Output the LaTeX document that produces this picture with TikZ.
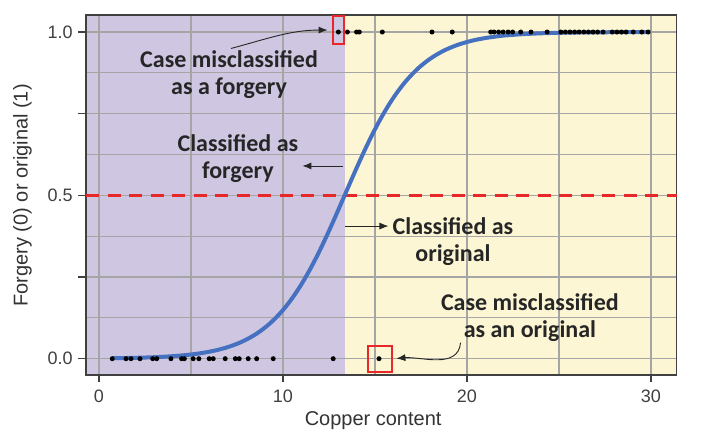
\documentclass[tikz,border=0pt]{standalone}
\usepackage{fontspec}
\setmainfont{Liberation Sans}
\newfontfamily\calloutfont{Carlito}
\usepackage{xcolor}
\usetikzlibrary{arrows.meta, calc, positioning}

\definecolor{forgeryfill}{RGB}{207,198,226}
\definecolor{originalfill}{RGB}{252,246,212}
\definecolor{gridgray}{RGB}{165,165,165}
\definecolor{curveblue}{RGB}{70,112,192}
\definecolor{cutred}{RGB}{232,40,40}

\begin{document}
\begin{tikzpicture}[x=18.4pt, y=326.7pt,
    callout/.style={font=\calloutfont\bfseries\fontsize{24}{27}\selectfont, align=center, inner sep=1pt, text=black!85},
    ticklabel/.style={font=\fontsize{18}{18}\selectfont, text=black!75},
    axistitle/.style={font=\fontsize{20}{20}\selectfont, text=black!80},
    pointer/.style={-{Latex[length=9pt,width=7pt]}, line width=0.9pt, black!85},
    dot/.style={circle, fill=black, inner sep=0pt, minimum size=5pt},
    markbox/.style={draw=cutred, line width=2pt, inner sep=0pt}]
\useasboundingbox (-5.38,-0.2366) rectangle (32.72,1.098);
% the two halves of the panel
\fill[forgeryfill] (-0.7,-0.05) rectangle (13.35,1.052);
\fill[originalfill] (13.35,-0.05) rectangle (31.4,1.052);
% grid
\foreach \gx in {0,5,...,30}
    \draw[gridgray, line width=1.2pt] (\gx,-0.05) -- (\gx,1.052);
\foreach \gy in {0,1,...,8}
    \draw[gridgray, line width=1.2pt] (-0.7,\gy/8) -- (31.4,\gy/8);
\draw[black!75, line width=1.3pt] (-0.7,-0.05) rectangle (31.4,1.052);
% ticks
\foreach \gx in {0,10,20,30} {
    \draw[black!75, line width=1.2pt] (\gx,-0.05) -- ++(0,-7pt);
    \node[ticklabel] (xl\gx) at (\gx,-0.114) {\gx};
}
\foreach \gy in {0,0.25,0.5,0.75,1}
    \draw[black!75, line width=1.2pt] (-0.7,\gy) -- ++(-8pt,0);
\node[ticklabel, anchor=east, xshift=-10pt] (yl0) at (-0.7,0) {0.0};
\node[ticklabel, anchor=east, xshift=-10pt] (yl5) at (-0.7,0.5) {0.5};
\node[ticklabel, anchor=east, xshift=-10pt] (yl10) at (-0.7,1) {1.0};
\node[axistitle] (xtitle) at (14.9,-0.188) {Copper content};
\node[axistitle, rotate=90] (ytitle) at (-4.16,0.5) {Forgery (0) or original (1)};
% cut-off and fitted curve
\draw[cutred, line width=2.5pt, dash pattern=on 13pt off 8.5pt] (-0.7,0.5) -- (31.4,0.5);
\draw[curveblue, line width=4pt, domain=0.7:29.9, samples=120, smooth]
    plot (\x, {1/(1+exp(-0.52*(\x-13.35)))});
% cases
\foreach \d [count=\i] in {0.72,1.47,1.74,2.23,2.92,3.14,3.91,4.49,4.64,5.12,5.43,5.99,6.21,6.86,7.41,7.62,8.11,8.57,9.47,12.73,15.22}
    \node[dot] (zero\i) at (\d,0) {};
\foreach \d [count=\i] in {13.01,13.5,14.0,14.15,15.4,18.1,19.2,21.29,21.47,21.72,21.97,22.24,22.48,22.92,23.48,24.36,25.1,25.35,25.6,25.85,26.1,26.35,26.6,26.85,27.1,27.4,27.9,28.15,28.4,28.65,29.04,29.5,29.85}
    \node[dot] (one\i) at (\d,1) {};
\node[markbox, minimum width=11.6pt, minimum height=28pt] (boxF) at (13.01,1.006) {};
\node[markbox, minimum width=24.6pt, minimum height=25.7pt] (boxO) at (15.28,0) {};
% callouts
\node[callout] (miscF) at (7.07,0.871) {Case misclassified\\as a forgery};
\node[callout] (forg) at (7.55,0.613) {Classified as\\forgery};
\node[callout] (orig) at (19.24,0.359) {Classified as\\original};
\node[callout] (miscO) at (23.42,0.126) {Case misclassified\\as an original};
\coordinate (cutF) at (13.26,0.59);
\coordinate (cutO) at (13.37,0.406);
\draw[pointer, shorten >=3pt] (cutF) -- (cutF -| forg.east);
\draw[pointer, shorten >=3pt] (cutO) -- (cutO -| orig.west);
\draw[pointer, shorten <=2pt, shorten >=4pt] (miscF.north) to[out=15, in=180] (boxF.west);
\draw[pointer, shorten >=3pt] ($(miscO.south west)!0.115!(miscO.south east)$) to[out=-95, in=5] (boxO.east);
\end{tikzpicture}
\end{document}
